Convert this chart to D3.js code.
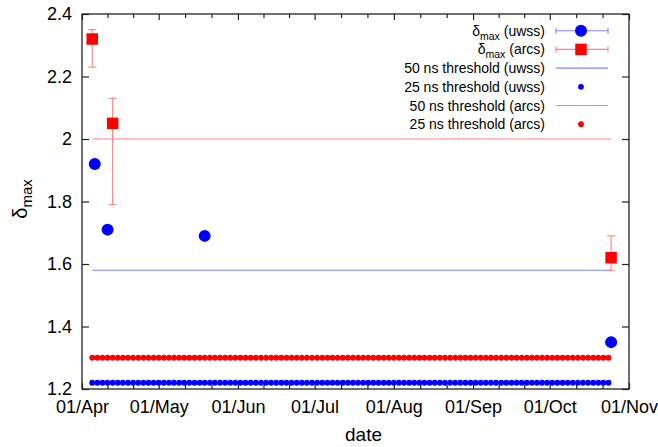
<!DOCTYPE html>
<html>
<head>
<meta charset="utf-8">
<script src="https://cdn.jsdelivr.net/npm/d3@7"></script>
<style>
  html, body { margin: 0; padding: 0; background: #fff; }
  svg { display: block; font-family: "Liberation Sans", Arial, Helvetica, sans-serif; }
</style>
</head>
<body>
<svg id="chart" width="658" height="447"></svg>
<script>
// δmax measurements per date
const uwssDates  = ["2011-04-06", "2011-04-11", "2011-05-19", "2011-10-25"];
const uwssValues = [1.92, 1.71, 1.69, 1.35];

const arcsDates  = ["2011-04-05", "2011-04-13", "2011-10-25"];
const arcsValues = [2.32, 2.05, 1.62];
const arcsLow    = [2.23, 1.79, 1.58];
const arcsHigh   = [2.35, 2.13, 1.69];

// threshold levels, the date span they cover and the sampling step (days) of the dotted ones
const threshold50Uwss = 1.58;
const threshold25Uwss = 1.22;
const threshold50Arcs = 2.0;
const threshold25Arcs = 1.30;
const thresholdSpan = ["2011-04-05", "2011-10-25"];
const dotStepDays = 2;

const xDomain = ["2011-04-01", "2011-11-01"];
const yTicks = [1.2, 1.4, 1.6, 1.8, 2.0, 2.2, 2.4];

const BLUE = "#0000ff", RED = "#ff0000";
const LBLUE = "#8080ff", LRED = "#ff8080";

const parse = d3.utcParse("%Y-%m-%d");
const svg = d3.select("#chart");
const m = { left: 82, right: 629, top: 14, bottom: 389 };

const x = d3.scaleUtc().domain(xDomain.map(parse)).range([m.left, m.right]);
const y = d3.scaleLinear().domain([1.2, 2.4]).range([m.bottom, m.top]);

// axes: months as major ticks, thirds of a month as minor ticks
const months = d3.utcMonth.range(parse(xDomain[0]), d3.utcDay.offset(parse(xDomain[1]), 1));
const minor = [];
months.slice(0, -1).forEach((d, i) => {
  const a = +d, b = +months[i + 1];
  minor.push(new Date(a + (b - a) / 3), new Date(a + 2 * (b - a) / 3));
});

const axisColor = "#222";
const fmtDate = d3.utcFormat("%d/%b");

function styleAxis(g) {
  g.select(".domain").remove();
  g.selectAll("line").attr("stroke", axisColor).attr("stroke-width", 1.2);
  g.selectAll("text").attr("fill", "#000").attr("font-size", 18)
    .attr("font-family", "'Liberation Sans', Arial, sans-serif");
}

// bottom axis labels and inward ticks
svg.append("g").attr("transform", `translate(0,${m.bottom})`)
  .call(d3.axisBottom(x).tickValues(months).tickFormat(fmtDate).tickSizeInner(-6).tickSizeOuter(0).tickPadding(11))
  .call(styleAxis);
svg.append("g").attr("transform", `translate(0,${m.bottom})`)
  .call(d3.axisBottom(x).tickValues(minor).tickFormat("").tickSizeInner(-4).tickSizeOuter(0))
  .call(styleAxis);
// top mirror ticks
svg.append("g").attr("transform", `translate(0,${m.top})`)
  .call(d3.axisTop(x).tickValues(months).tickFormat("").tickSizeInner(-6).tickSizeOuter(0))
  .call(styleAxis);
svg.append("g").attr("transform", `translate(0,${m.top})`)
  .call(d3.axisTop(x).tickValues(minor).tickFormat("").tickSizeInner(-4).tickSizeOuter(0))
  .call(styleAxis);

// left and right value axes
svg.append("g").attr("transform", `translate(${m.left},0)`)
  .call(d3.axisLeft(y).tickValues(yTicks).tickFormat(d3.format("~g")).tickSizeInner(-7).tickSizeOuter(0).tickPadding(10))
  .call(styleAxis);
svg.append("g").attr("transform", `translate(${m.right},0)`)
  .call(d3.axisRight(y).tickValues(yTicks).tickFormat("").tickSizeInner(-7).tickSizeOuter(0))
  .call(styleAxis);

// frame
svg.append("rect")
  .attr("x", m.left).attr("y", m.top)
  .attr("width", m.right - m.left).attr("height", m.bottom - m.top)
  .attr("fill", "none").attr("stroke", axisColor).attr("stroke-width", 1.3);

// axis titles
svg.append("text").attr("x", (m.left + m.right) / 2 + 8).attr("y", 441)
  .attr("text-anchor", "middle").attr("font-size", 19).text("date");
const yl = svg.append("text")
  .attr("transform", "translate(27,199) rotate(-90)")
  .attr("text-anchor", "middle").attr("font-size", 20);
yl.append("tspan").text("δ");
yl.append("tspan").attr("font-size", 15).attr("dy", 5).text("max");

const plot = svg.append("g");
const spanDates = thresholdSpan.map(parse);

// 50 ns threshold lines
[[threshold50Uwss, LBLUE], [threshold50Arcs, LRED]].forEach(([v, c]) => {
  plot.append("line")
    .attr("x1", x(spanDates[0])).attr("x2", x(spanDates[1]))
    .attr("y1", y(v)).attr("y2", y(v))
    .attr("stroke", c).attr("stroke-width", 1.1);
});

// 25 ns thresholds, sampled as dots along the span
const samples = d3.utcDay.every(1).range(spanDates[0], d3.utcDay.offset(spanDates[1], 1))
  .filter((d, i) => i % dotStepDays === 0);
[[threshold25Arcs, RED], [threshold25Uwss, BLUE]].forEach(([v, c]) => {
  plot.append("g").selectAll("circle").data(samples).join("circle")
    .attr("cx", d => x(d)).attr("cy", y(v)).attr("r", 2.9).attr("fill", c);
});

// arcs error bars and squares
const arcs = arcsDates.map((d, i) => ({ date: parse(d), v: arcsValues[i], lo: arcsLow[i], hi: arcsHigh[i] }));
const eb = plot.append("g").attr("stroke", LRED).attr("stroke-width", 1.1);
arcs.forEach(d => {
  const cx = x(d.date);
  eb.append("line").attr("x1", cx).attr("x2", cx).attr("y1", y(d.lo)).attr("y2", y(d.hi));
  eb.append("line").attr("x1", cx - 4).attr("x2", cx + 4).attr("y1", y(d.lo)).attr("y2", y(d.lo));
  eb.append("line").attr("x1", cx - 4).attr("x2", cx + 4).attr("y1", y(d.hi)).attr("y2", y(d.hi));
});
const sq = 11.5;
plot.append("g").selectAll("rect").data(arcs).join("rect")
  .attr("x", d => x(d.date) - sq / 2).attr("y", d => y(d.v) - sq / 2)
  .attr("width", sq).attr("height", sq).attr("fill", RED);

// uwss circles
plot.append("g").selectAll("circle").data(uwssDates.map((d, i) => ({ date: parse(d), v: uwssValues[i] })))
  .join("circle")
  .attr("cx", d => x(d.date)).attr("cy", d => y(d.v)).attr("r", 6).attr("fill", BLUE);

// legend
const legend = svg.append("g").attr("font-size", 14);
const entries = [
  { label: ["δ", "max", " (uwss)"], kind: "err", color: LBLUE, mark: "circle", fill: BLUE },
  { label: ["δ", "max", " (arcs)"], kind: "err", color: LRED, mark: "square", fill: RED },
  { label: ["50 ns threshold (uwss)"], kind: "line", color: LBLUE },
  { label: ["25 ns threshold (uwss)"], kind: "dot", fill: BLUE },
  { label: ["50 ns threshold (arcs)"], kind: "line", color: LRED },
  { label: ["25 ns threshold (arcs)"], kind: "dot", fill: RED },
];
const lx0 = 556, lx1 = 608, lxc = 581, textRight = 545;
entries.forEach((e, i) => {
  const cy = 30.7 + i * 18.7;
  const t = legend.append("text").attr("x", textRight).attr("y", cy + 5).attr("text-anchor", "end");
  if (e.label.length === 3) {
    t.append("tspan").text(e.label[0]);
    t.append("tspan").attr("font-size", 10.5).attr("dy", 4).text(e.label[1]);
    t.append("tspan").attr("dy", -4).text(e.label[2]);
  } else {
    t.text(e.label[0]);
  }
  if (e.kind === "err" || e.kind === "line") {
    legend.append("line").attr("x1", lx0).attr("x2", lx1).attr("y1", cy).attr("y2", cy)
      .attr("stroke", e.color).attr("stroke-width", 1.1);
  }
  if (e.kind === "err") {
    [lx0, lx1].forEach(px => legend.append("line").attr("x1", px).attr("x2", px)
      .attr("y1", cy - 3).attr("y2", cy + 3).attr("stroke", e.color).attr("stroke-width", 1.1));
    if (e.mark === "circle") {
      legend.append("circle").attr("cx", lxc).attr("cy", cy).attr("r", 6).attr("fill", e.fill);
    } else {
      legend.append("rect").attr("x", lxc - sq / 2).attr("y", cy - sq / 2)
        .attr("width", sq).attr("height", sq).attr("fill", e.fill);
    }
  }
  if (e.kind === "dot") {
    legend.append("circle").attr("cx", lxc).attr("cy", cy).attr("r", 2.9).attr("fill", e.fill);
  }
});
</script>
</body>
</html>
